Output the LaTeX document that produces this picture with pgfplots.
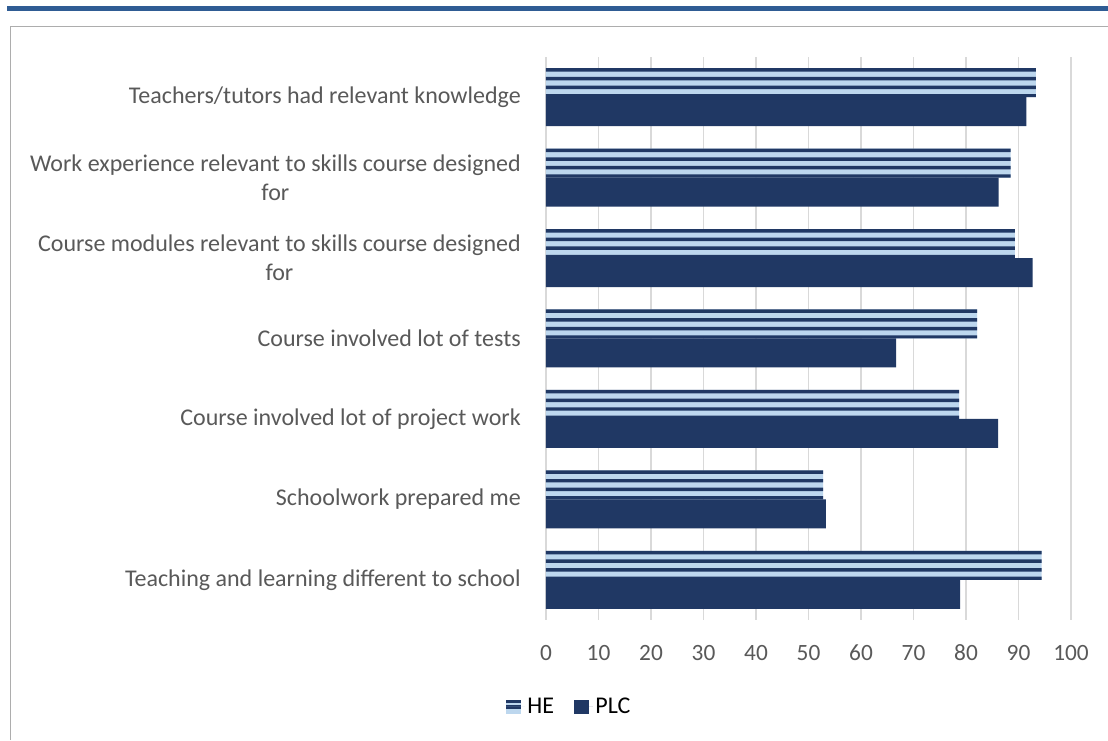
\documentclass[border=0pt]{standalone}
\usepackage{fontspec}
\setmainfont{Carlito}
\usepackage{pgfplots}
\pgfplotsset{compat=1.18}
\definecolor{navy}{HTML}{203864}
\definecolor{lblue}{HTML}{BDD7EE}
\definecolor{gridc}{HTML}{D9D9D9}
\definecolor{txt}{HTML}{595959}
\definecolor{bandc}{HTML}{2F5C94}
\definecolor{framec}{HTML}{ADADAD}
\pgfplotstableread{
v y
94.4 0
52.8 1
78.7 2
82.1 3
89.3 4
88.5 5
93.3 6
}\he
\pgfplotstableread{
v y
78.9 0
53.3 1
86.1 2
66.7 3
92.7 4
86.2 5
91.5 6
}\plc
\begin{document}
\begin{tikzpicture}
\useasboundingbox (0,0) rectangle (831pt,555pt);
\fill[white] (0,0) rectangle (831pt,555pt);
\fill[bandc] (5pt,546.75pt) rectangle (831pt,550.75pt);
\draw[framec, line width=1.1pt] (7.9pt,0) -- (7.9pt,535.1pt) -- (831pt,535.1pt);
\begin{axis}[
  at={(409.5pt,90pt)}, anchor=south west,
  scale only axis, width=393.75pt, height=422.25pt,
  xbar, bar width=21.75pt,
  xmin=0, xmax=100, ymin=-0.5, ymax=6.5,
  xtick={0,10,...,100},
  ytick={0,...,6},
  yticklabels={
    Teaching and learning different to school,
    Schoolwork prepared me,
    Course involved lot of project work,
    Course involved lot of tests,
    Course modules relevant to skills course designed\\for,
    Work experience relevant to skills course designed\\for,
    Teachers/tutors had relevant knowledge},
  xmajorgrids, grid style={gridc, line width=1.1pt},
  axis line style={draw=none},
  major tick length=0pt,
  tick label style={text=txt},
  xticklabel style={font=\fontsize{17.5}{21}\selectfont, anchor=north, inner sep=0pt, yshift=-18.5pt},
  yticklabel style={font=\fontsize{18}{21.75}\selectfont, anchor=east, align=center, inner sep=0pt, xshift=-18.75pt},
  /pgf/number format/assume math mode=true,
  legend style={at={(axis description cs:0.045,-0.1545)}, anchor=center, draw=none,
    font=\fontsize{18}{21}\selectfont, text=black,
    /tikz/every even column/.append style={column sep=13pt}},
  legend columns=2,
]
\addplot[draw=none, fill=lblue, bar shift=10.875pt,
  legend image code/.code={
    \fill[lblue] (0pt,-5.5pt) rectangle (11pt,5.5pt);
    \fill[navy] (0pt,3.3pt) rectangle (11pt,5.5pt);
    \fill[navy] (0pt,-1.6pt) rectangle (11pt,1.4pt);
    \path (0pt,0pt) -- (14pt,0pt);
  }]
  table[x=v, y=y] {\he};
\addlegendentry{HE}
\addplot[draw=none, fill=navy, bar width=2.6pt, bar shift=20.45pt, forget plot] table[x=v, y=y] {\he};
\addplot[draw=none, fill=navy, bar width=2.6pt, bar shift=13.95pt, forget plot] table[x=v, y=y] {\he};
\addplot[draw=none, fill=navy, bar width=2.6pt, bar shift=7.45pt, forget plot] table[x=v, y=y] {\he};
\addplot[draw=none, fill=navy, bar width=2.4pt, bar shift=1.2pt, forget plot] table[x=v, y=y] {\he};
\addplot[draw=none, fill=navy, bar shift=-10.875pt,
  legend image code/.code={
    \fill[navy] (0pt,-5.5pt) rectangle (11pt,5.5pt);
    \path (0pt,0pt) -- (14pt,0pt);
  }]
  table[x=v, y=y] {\plc};
\addlegendentry{PLC}
\end{axis}
\end{tikzpicture}
\end{document}
